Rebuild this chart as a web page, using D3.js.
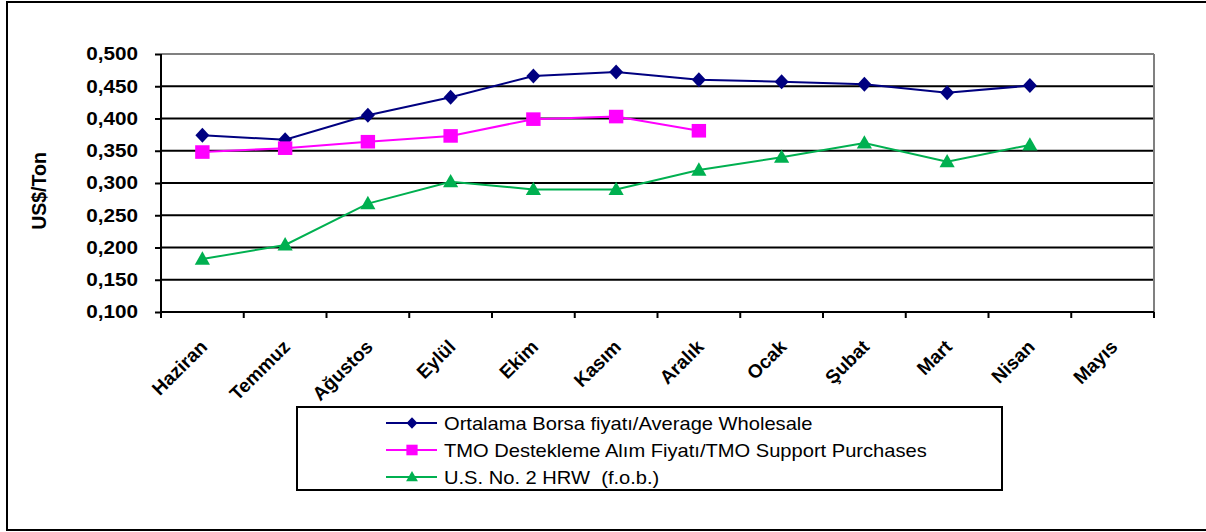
<!DOCTYPE html>
<html><head><meta charset="utf-8">
<script src="https://cdn.jsdelivr.net/npm/d3@7"></script>
<style>body{margin:0;background:#fff}svg{display:block;font-family:"Liberation Sans",Arial,sans-serif}text{white-space:pre}</style>
</head><body><svg id="c" width="1206" height="532"></svg>
<script>
const months = ["Haziran","Temmuz","Ağustos","Eylül","Ekim","Kasım","Aralık","Ocak","Şubat","Mart","Nisan","Mayıs"];
const avgWholesale = [0.374,0.367,0.405,0.433,0.466,0.472,0.460,0.457,0.453,0.440,0.451,null];
const tmoSupport   = [0.348,0.354,0.364,0.373,0.399,0.403,0.381,null,null,null,null,null];
const usHRW        = [0.182,0.204,0.268,0.302,0.290,0.290,0.320,0.340,0.362,0.333,0.359,null];
const yTicks = [0.100,0.150,0.200,0.250,0.300,0.350,0.400,0.450,0.500];
const seriesNames = ["Ortalama Borsa fiyatı/Average Wholesale","TMO Destekleme Alım Fiyatı/TMO Support Purchases","U.S. No. 2 HRW  (f.o.b.)"];
const seriesColors = ["#000080","#ff00ff","#00b050"];
const seriesValues = [avgWholesale, tmoSupport, usHRW];

const SX = 1.15; // horizontal text stretch
function marker(i, k){
  if(i===0) return `M0,${-7.5*k}L${7*k},0L0,${7.5*k}L${-7*k},0Z`;
  if(i===1) return `M${-7.2*k},${-6.8*k}H${7.2*k}V${6.8*k}H${-7.2*k}Z`;
  return `M0,${-7.8*k}L${7.6*k},${5.6*k}H${-7.6*k}Z`;
}

const svg = d3.select("#c");
const L=161, R=1154, T=54, B=312;
svg.append("rect").attr("x",7).attr("y",2).attr("width",1210).attr("height",528).attr("fill","none").attr("stroke","#000").attr("stroke-width",2);

const x = d3.scaleBand().domain(months).range([L,R]);
const y = d3.scaleLinear().domain([0.1,0.5]).range([B,T]);

svg.append("g").selectAll("line").data(yTicks.slice(1)).join("line")
  .attr("x1",L).attr("x2",R).attr("y1",d=>y(d)).attr("y2",d=>y(d))
  .attr("stroke",d=> d===0.5 ? "#808080":"#000").attr("stroke-width",2);
svg.append("line").attr("x1",R).attr("x2",R).attr("y1",T).attr("y2",B).attr("stroke","#808080").attr("stroke-width",2);

const fmt = d => d.toFixed(3).replace(".",",");
const ya = svg.append("g").attr("transform",`translate(${L},0)`)
  .call(d3.axisLeft(y).tickValues(yTicks).tickFormat(fmt).tickSize(6).tickPadding(17));
ya.select(".domain").attr("stroke","#000").attr("stroke-width",2).attr("d",`M0,${T}V${B}`);
ya.selectAll(".tick line").attr("stroke","#000").attr("stroke-width",2);
ya.selectAll(".tick text").attr("font-size",18).attr("font-weight","bold").attr("fill","#000")
  .attr("font-family","Liberation Sans, Arial, sans-serif")
  .attr("x",-23/SX).attr("transform",`scale(${SX},1)`);

const xa = svg.append("g").attr("transform",`translate(0,${B})`)
  .call(d3.axisBottom(x).tickSize(0).tickFormat(""));
xa.select(".domain").attr("stroke","#000").attr("stroke-width",2).attr("d",`M${L},0H${R}`);
const bounds = months.map(m=>x(m)).concat([R]);
svg.append("g").selectAll("line").data(bounds).join("line")
  .attr("x1",d=>d).attr("x2",d=>d).attr("y1",B).attr("y2",B+6).attr("stroke","#000").attr("stroke-width",2);
svg.append("g").selectAll("text").data(months).join("text")
  .attr("transform",d=>`translate(${x(d)+x.bandwidth()/2+6},${B+36}) rotate(-45)`)
  .attr("text-anchor","end").attr("font-size",19).attr("font-weight","bold").attr("fill","#000")
  .text(d=>d);

svg.append("text").attr("transform","translate(46,191) rotate(-90)").attr("text-anchor","middle")
  .attr("font-size",19.5).attr("font-weight","bold").text("US$/Ton");

const line = d3.line().defined(d=>d.v!=null).x(d=>x(d.m)+x.bandwidth()/2).y(d=>y(d.v));
seriesValues.forEach((vals,i)=>{
  const data = months.map((m,j)=>({m, v: vals[j]}));
  svg.append("path").datum(data).attr("d",line).attr("fill","none").attr("stroke",seriesColors[i]).attr("stroke-width",2);
  svg.append("g").selectAll("path").data(data.filter(d=>d.v!=null)).join("path")
    .attr("transform",d=>`translate(${x(d.m)+x.bandwidth()/2},${y(d.v)})`)
    .attr("d",marker(i,1)).attr("fill",seriesColors[i]);
});

svg.append("rect").attr("x",297).attr("y",407).attr("width",705).attr("height",83).attr("fill","#fff").attr("stroke","#000").attr("stroke-width",2);
seriesNames.forEach((n,i)=>{
  const cy = 423 + i*27;
  const g = svg.append("g");
  g.append("line").attr("x1",386).attr("x2",437).attr("y1",cy).attr("y2",cy).attr("stroke",seriesColors[i]).attr("stroke-width",2);
  g.append("path").attr("transform",`translate(412,${cy})`).attr("d",marker(i,0.78)).attr("fill",seriesColors[i]);
  g.append("text").attr("transform",`translate(444,${cy+7}) scale(${SX},1)`).attr("font-size",17.5).attr("fill","#000").text(n);
});
</script></body></html>
